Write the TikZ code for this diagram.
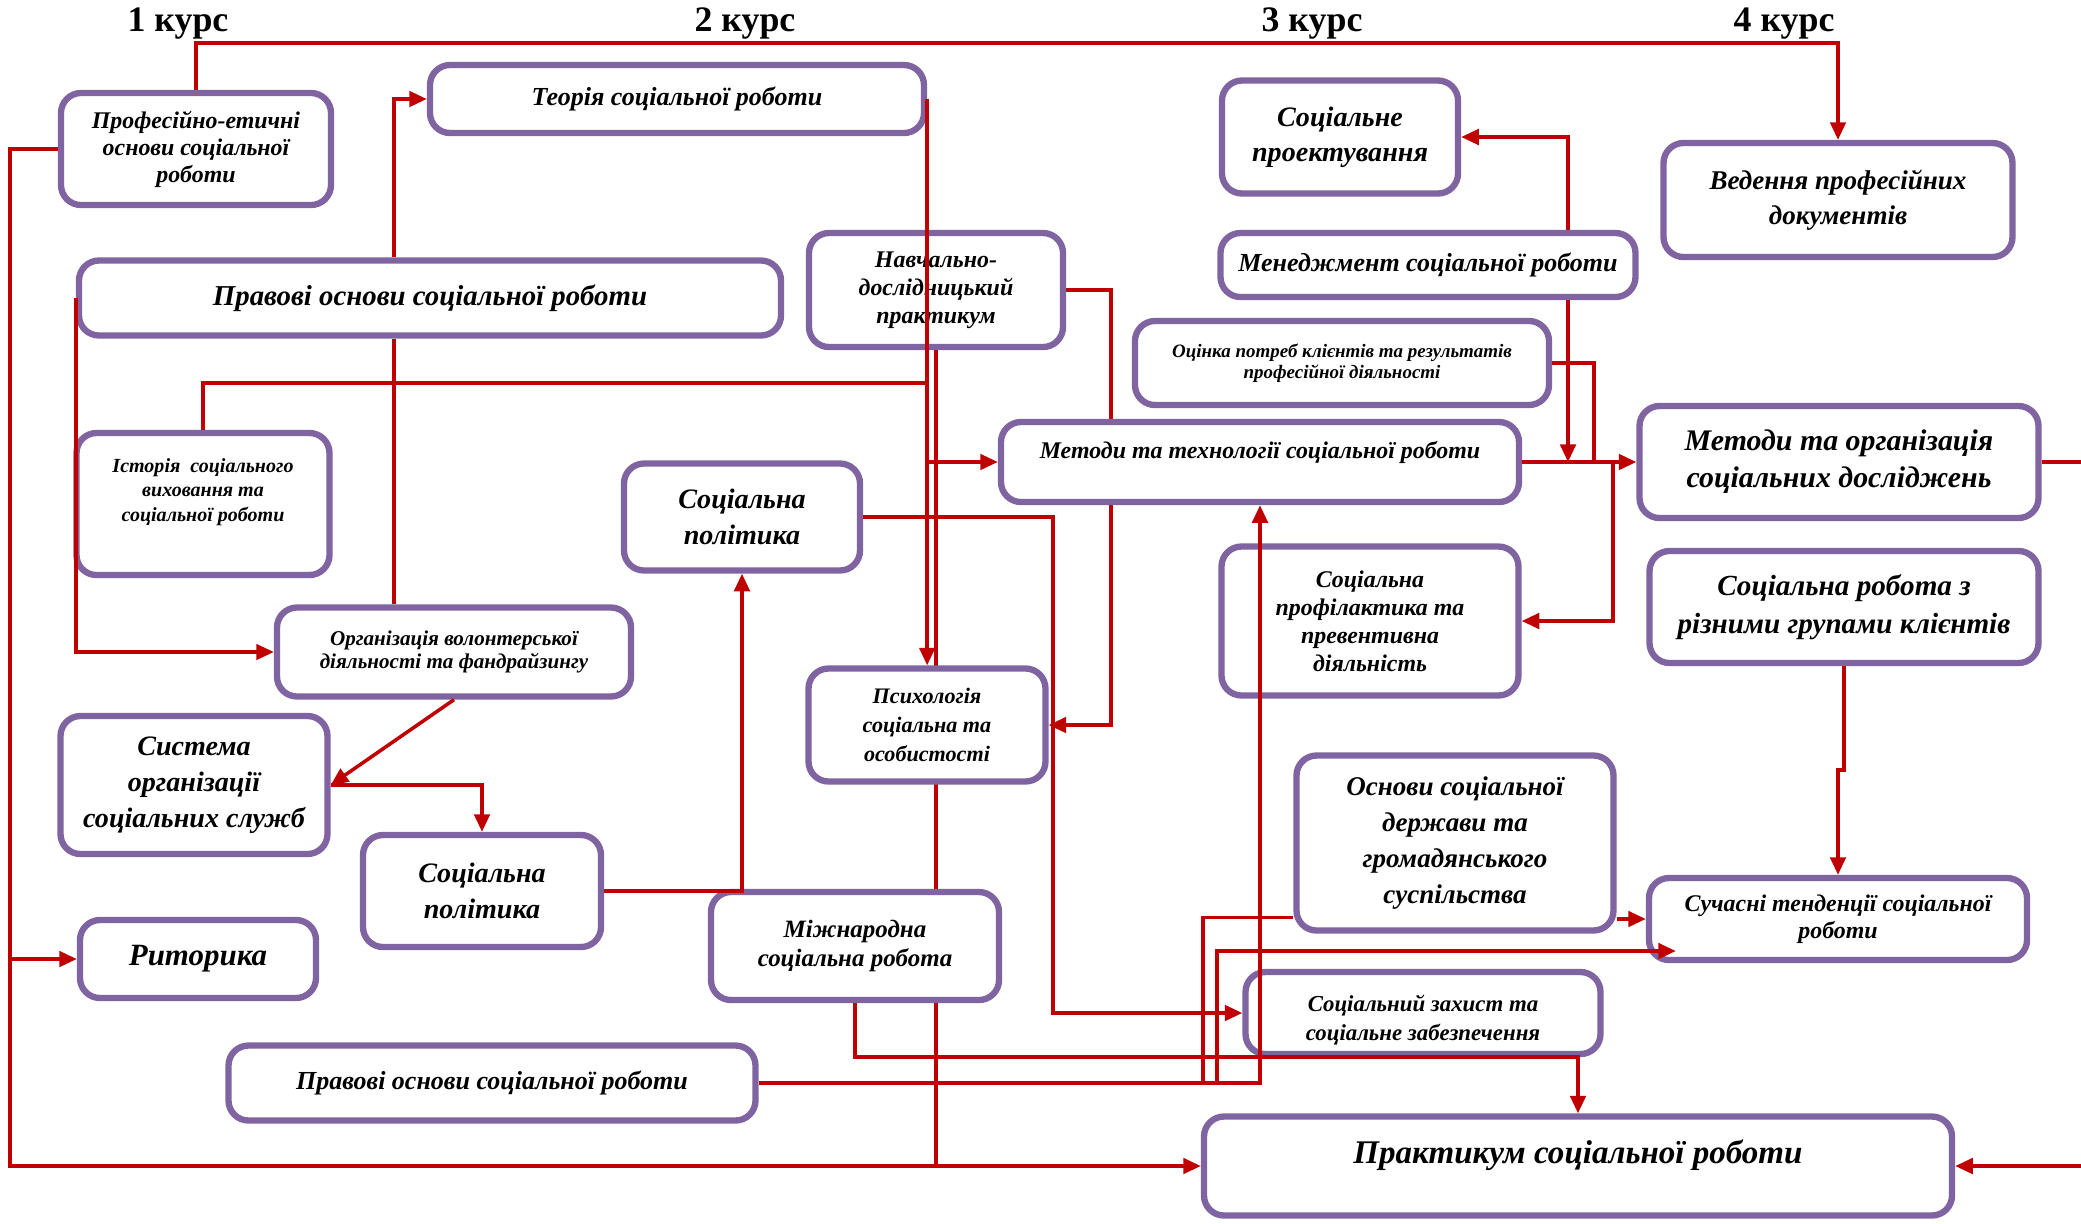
\documentclass[tikz,border=0pt]{standalone}
\usepackage{fontspec}
\setmainfont{Liberation Serif}
\usetikzlibrary{arrows.meta,backgrounds}
\definecolor{linered}{HTML}{C00000}
\definecolor{boxpurple}{HTML}{8064A2}
\begin{document}
\begin{tikzpicture}[inner sep=2pt,>={Triangle[length=5pt,width=4.4pt]},
box/.style={draw=boxpurple,line width=1.8pt,rounded corners=0.2cm,fill=white,align=center},
fsz/.style 2 args={font=\fontsize{#1}{#2}\selectfont\bfseries\itshape},
wire/.style={draw=linered,line width=1pt},
course/.style={font=\fontsize{10.2}{12}\selectfont\bfseries,anchor=base}]
\useasboundingbox (0,0) rectangle (20.81,-12.23);
% courses
\node[course] (c1) at (1.78,-0.31) {1 курс};
\node[course] (c2) at (7.45,-0.31) {2 курс};
\node[course] (c3) at (13.12,-0.31) {3 курс};
\node[course] (c4) at (17.84,-0.31) {4 курс};
% disciplines
\node[box,fsz={6.8}{7.7},minimum width=2.70cm,minimum height=1.12cm] (prof) at (1.96,-1.49) {Професійно-етичні\\основи соціальної\\роботи};
\node[box,fsz={7.4}{9},minimum width=4.94cm,minimum height=0.68cm] (teoria) at (6.77,-0.99) {Теорія соціальної роботи};
\node[box,fsz={8.2}{10},minimum width=7.02cm,minimum height=0.75cm] (pravo1) at (4.30,-2.98) {Правові основи соціальної роботи};
\node[box,fsz={6.8}{8},minimum width=2.54cm,minimum height=1.14cm] (navch) at (9.36,-2.90) {Навчально-\\дослідницький\\практикум};
\node[box,fsz={8}{10},minimum width=2.36cm,minimum height=1.13cm] (proekt) at (13.40,-1.37) {Соціальне\\проектування};
\node[box,fsz={7.4}{9},minimum width=4.15cm,minimum height=0.64cm] (menedzh) at (14.28,-2.65) {Менеджмент соціальної роботи};
\node[box,fsz={5.4}{6},minimum width=4.14cm,minimum height=0.84cm] (ocinka) at (13.42,-3.63) {Оцінка потреб клієнтів та результатів\\професійної діяльності};
\node[box,fsz={7.7}{10},minimum width=3.49cm,minimum height=1.14cm] (veden) at (18.38,-2.00) {Ведення професійних\\документів};
\node[box,fsz={5.7}{7},minimum width=2.53cm,minimum height=1.42cm,text depth=0.28cm] (istoria) at (2.03,-5.04) {Історія~ соціального\\виховання та\\соціальної роботи};
\node[box,fsz={6.8}{8},minimum width=5.18cm,minimum height=0.80cm,text depth=0.25cm] (metody) at (12.60,-4.62) {Методи та технології соціальної роботи};
\node[box,fsz={8}{10.2},minimum width=2.36cm,minimum height=1.07cm] (spol1) at (7.42,-5.17) {Соціальна\\політика};
\node[box,fsz={8.5}{10.5},minimum width=3.99cm,minimum height=1.12cm] (metorg) at (18.39,-4.62) {Методи та організація\\соціальних досліджень};
\node[box,fsz={8.3}{10.8},minimum width=3.89cm,minimum height=1.12cm] (sgroup) at (18.44,-6.07) {Соціальна робота з\\різними групами клієнтів};
\node[box,fsz={6.8}{8},minimum width=2.97cm,minimum height=1.49cm] (profil) at (13.70,-6.21) {Соціальна\\профілактика та\\превентивна\\діяльність};
\node[box,fsz={6}{6.5},minimum width=3.54cm,minimum height=0.89cm] (org) at (4.54,-6.52) {Організація волонтерської\\діяльності та фандрайзингу};
\node[box,fsz={6.3}{8.2},minimum width=2.37cm,minimum height=1.13cm] (psych) at (9.27,-7.25) {Психологія\\соціальна та\\особистості};
\node[box,fsz={8}{10.2},minimum width=2.67cm,minimum height=1.38cm] (sysserv) at (1.94,-7.85) {Система\\організації\\соціальних служб};
\node[box,fsz={8}{10.2},minimum width=2.38cm,minimum height=1.12cm] (spol2) at (4.82,-8.91) {Соціальна\\політика};
\node[box,fsz={8.8}{10},minimum width=2.36cm,minimum height=0.78cm] (ritor) at (1.98,-9.59) {Риторика};
\node[box,fsz={7.1}{8.3},minimum width=2.88cm,minimum height=1.08cm] (mizh) at (8.55,-9.46) {Міжнародна\\соціальна робота};
\node[box,fsz={7.7}{10.2},minimum width=3.17cm,minimum height=1.75cm] (osnovy) at (14.55,-8.43) {Основи соціальної\\держави та\\громадянського\\суспільства};
\node[box,fsz={6.8}{7.7},minimum width=3.78cm,minimum height=0.82cm] (sucas) at (18.38,-9.19) {Сучасні тенденції соціальної\\роботи};
\node[box,fsz={6.5}{8.2},minimum width=3.55cm,minimum height=0.82cm,text height=0.6cm] (zakhyst) at (14.23,-10.13) {Соціальний захист та\\соціальне забезпечення};
\node[box,fsz={7.4}{9},minimum width=5.27cm,minimum height=0.75cm] (pravo2) at (4.92,-10.83) {Правові основи соціальної роботи};
\node[box,fsz={9.4}{11},minimum width=7.48cm,minimum height=0.99cm,text depth=0.29cm] (prakt) at (15.78,-11.66) {Практикум соціальної роботи};
% turning points
\coordinate (lft) at (0.10,0);
\coordinate (rgt) at (20.81,0);
\coordinate (pv) at (3.94,0);
\coordinate (hist) at (0,-3.83);
\coordinate (nv) at (11.11,0);
\coordinate (sp) at (10.53,0);
\coordinate (b1) at (12.03,0);
\coordinate (b2) at (12.17,0);
\coordinate (mg) at (15.68,0);
\coordinate (oc) at (15.94,0);
\coordinate (pf) at (16.13,0);
% 1 course
\draw[wire,->] (prof.north) -- ++(0,0.47) -| (veden.north);
\draw[wire,->] (prof.west) -- ++(-0.48,0) |- (prakt.west);
\draw[wire,->] (ritor.west -| lft) -- (ritor.west);
\draw[wire,->] (pravo1.north -| pv) |- (teoria.west);
\draw[wire] (pravo1.south -| pv) -- (org.north -| pv);
\draw[wire,->] (pravo1.west) |- (org.west);
\draw[wire] (istoria.north) |- (teoria.east |- hist);
\draw[wire,->] (org.south) -- (sysserv.east);
\draw[wire,->] (sysserv.east) -| (spol2.north);
\draw[wire,->] (spol2.east) -| (spol1.south);
% 2 course
\draw[wire,->] (teoria.east) -- (teoria.east |- psych.north);
\draw[wire,->] (teoria.east |- metody.west) -- (metody.west);
\draw[wire,->] (spol1.east) -| (zakhyst.west -| sp) -- (zakhyst.west);
\draw[wire,->] (mizh.south) |- (prakt.north |- zakhyst.south) -- (prakt.north);
\draw[wire,->] (pravo2.east) -| (metody.south);
\draw[wire] (pravo2.east -| b1) |- ([yshift=0.16cm]osnovy.south west);
\draw[wire,->] (pravo2.east -| b2) |- ([xshift=0.3cm,yshift=-0.32cm]sucas.west);
% 3 course
\draw[wire,->] (osnovy.east |- sucas.west) -- (sucas.west);
\draw[wire,->] (menedzh.north -| mg) |- (proekt.east);
\draw[wire,->] (menedzh.south -| mg) -- (metody.east -| mg);
\draw[wire,->] (metody.east) -- (metorg.west);
\draw[wire] (ocinka.east) -| (metody.east -| oc);
\draw[wire,->] (metody.east -| pf) |- (profil.east);
% 4 course
\draw[wire,->] (sgroup.south) -- ++(0,-1.04) -| (sucas.north);
\draw[wire] (metorg.east) -- (metorg.east -| rgt);
\draw[wire,->] (prakt.east -| rgt) -- (prakt.east);
\begin{pgfonlayer}{background}
\fill[white] (0,0) rectangle (20.81,-12.23);
\draw[wire] (navch.south) -- (navch.south |- prakt.west);
\draw[wire,->] (navch.east) -| (psych.east -| nv) -- (psych.east);
\end{pgfonlayer}
\end{tikzpicture}
\end{document}
